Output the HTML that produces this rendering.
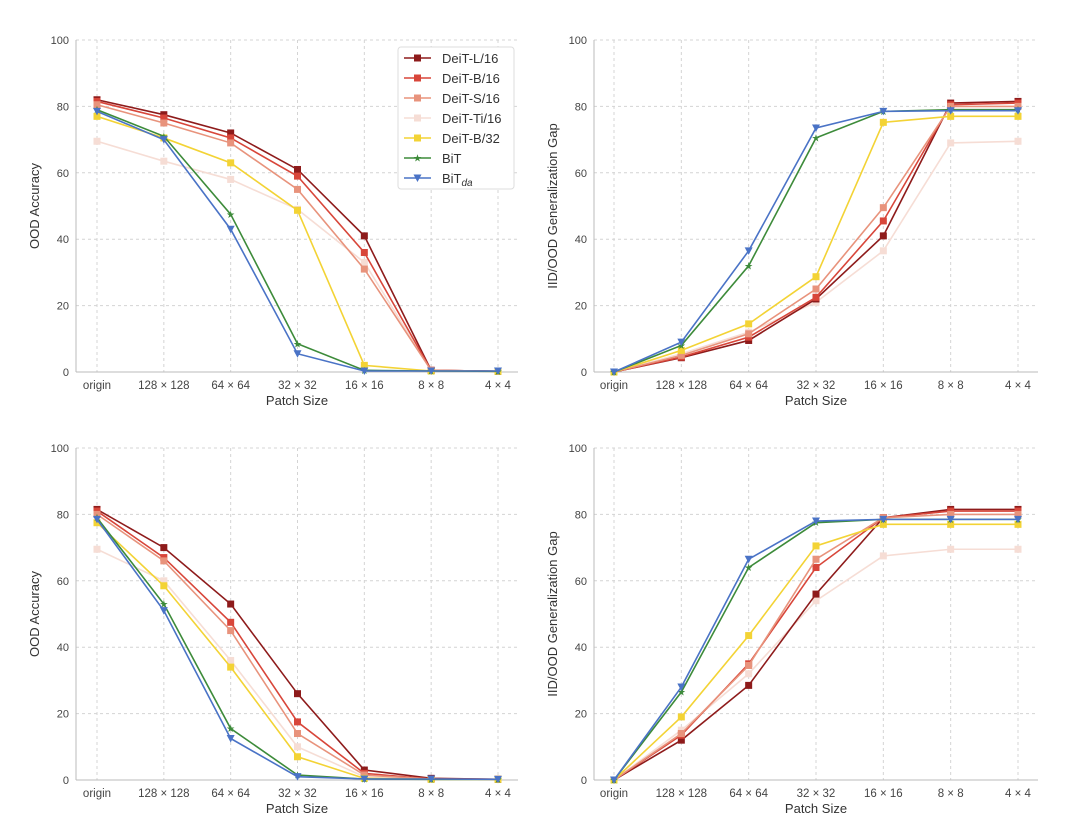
<!DOCTYPE html>
<html><head><meta charset="utf-8"><style>
body{margin:0;background:#fff;}
svg{display:block;font-family:"Liberation Sans",sans-serif;}
</style></head><body>
<svg id="c" width="1080" height="829"></svg>
<script>
const categories=["origin","128 × 128","64 × 64","32 × 32","16 × 16","8 × 8","4 × 4"];
const seriesNames=["DeiT-L/16","DeiT-B/16","DeiT-S/16","DeiT-Ti/16","DeiT-B/32","BiT","BiTda"];
const yTicks=[0,20,40,60,80,100];
const tlL=[82,77.5,72,61,41,0.5,0.2], tlB=[81.5,76.5,70.5,59,36,0.5,0.2], tlS=[80.5,75,69,55,31,0.5,0.2], tlTi=[69.5,63.5,58,49,33,0.5,0.2], tlB32=[77,70.5,63,48.7,2,0.3,0.2], tlBiT=[79,71,47.5,8.5,0.5,0.3,0.2], tlDa=[78.5,70,43,5.5,0.3,0.3,0.3];
const trL=[0,4.3,9.5,22,41,81,81.5], trB=[0,4.5,10.5,22.5,45.5,80.5,81], trS=[0,5,11.5,25,49.5,80,80], trTi=[0,5.5,12,21,36.5,69,69.5], trB32=[0,6.5,14.5,28.7,75.2,77,77], trBiT=[0,8,32,70.5,78.5,79,79], trDa=[0,9,36.5,73.5,78.5,78.7,78.7];
const blL=[81.5,70,53,26,3,0.5,0.2], blB=[81,67,47.5,17.5,2,0.3,0.2], blS=[80,66,45,14,1.5,0.3,0.2], blTi=[69.5,60,36,10,1,0.3,0.2], blB32=[77.5,58.5,34,7,0.5,0.2,0.2], blBiT=[79,53,15.5,1.5,0.3,0.2,0.2], blDa=[78.5,51,12.5,1,0.3,0.3,0.2];
const brL=[0,12,28.5,56,79,81.5,81.5], brB=[0,13.5,35,64,79,81,81], brS=[0,14,34.5,66.5,79,80,80], brTi=[0,15,32,54,67.5,69.5,69.5], brB32=[0,19,43.5,70.5,77,77,77], brBiT=[0,26.5,64,77.5,78.5,78.5,78.5], brDa=[0,28,66.5,78,78.5,78.5,78.5];
const colors=["#8e1b1b","#d8463a","#e8937c","#f6ddd5","#f3d335","#3d8b3a","#4a73c6"];
const NS="http://www.w3.org/2000/svg";
const svg=document.getElementById('c');
function mk(t,a,p){const e=document.createElementNS(NS,t);for(const k in a)e.setAttribute(k,a[k]);(p||svg).appendChild(e);return e;}
const panels=[
 {x0:76,x1:518,y0:40,y1:372,cx0:97,cx1:498,yl:"OOD Accuracy",d:[tlL,tlB,tlS,tlTi,tlB32,tlBiT,tlDa],legend:true,name:"top-left"},
 {x0:594,x1:1038,y0:40,y1:372,cx0:614,cx1:1018,yl:"IID/OOD Generalization Gap",d:[trL,trB,trS,trTi,trB32,trBiT,trDa],name:"top-right"},
 {x0:76,x1:518,y0:448,y1:780,cx0:97,cx1:498,yl:"OOD Accuracy",d:[blL,blB,blS,blTi,blB32,blBiT,blDa],name:"bottom-left"},
 {x0:594,x1:1038,y0:448,y1:780,cx0:614,cx1:1018,yl:"IID/OOD Generalization Gap",d:[brL,brB,brS,brTi,brB32,brBiT,brDa],name:"bottom-right"}];
function marker(g,k,x,y,c){
 let m;
 if(k<5) m=mk('rect',{x:x-3.5,y:y-3.5,width:7,height:7,fill:c},g);
 else if(k==5) m=mk('text',{x:x,y:y+3.5,'text-anchor':'middle','font-size':10,fill:c},g),m.textContent='★';
 else m=mk('path',{d:`M${x-4},${y-3.5}L${x+4},${y-3.5}L${x},${y+4}Z`,fill:c},g);
 
 
}
panels.forEach(p=>{
 const g=mk('g',{});
 
 
 const X=i=>p.cx0+(p.cx1-p.cx0)*i/(categories.length-1);
 const Y=v=>p.y1-(p.y1-p.y0)*v/100;
 yTicks.forEach(t=>{
  const gl=mk('line',{x1:p.x0,x2:p.x1,y1:Y(t),y2:Y(t),stroke:'#d4d4d4','stroke-dasharray':'3,3','stroke-width':1},g);
  
  
  const tl=mk('text',{x:p.x0-7,y:Y(t)+4,'text-anchor':'end','font-size':11,fill:'#444'},g);tl.textContent=t;
  
  
 });
 categories.forEach((c,i)=>{
  const gl=mk('line',{x1:X(i),x2:X(i),y1:p.y0,y2:p.y1,stroke:'#d4d4d4','stroke-dasharray':'3,3'},g);
  
  
  const tl=mk('text',{x:X(i),y:p.y1+17,'text-anchor':'middle','font-size':11.5,fill:'#444'},g);tl.textContent=c;
  
  
 });
 mk('line',{x1:p.x0,x2:p.x0,y1:p.y0,y2:p.y1,stroke:'#bbb'},g);
 mk('line',{x1:p.x0,x2:p.x1,y1:p.y1,y2:p.y1,stroke:'#bbb'},g);
 const xt=mk('text',{x:(p.x0+p.x1)/2,y:p.y1+33,'text-anchor':'middle','font-size':13,fill:'#333'},g);xt.textContent='Patch Size';
 
 
 const yt=mk('text',{x:0,y:0,'text-anchor':'middle','font-size':13,fill:'#333',transform:`translate(${p.x0-37},${(p.y0+p.y1)/2}) rotate(-90)`},g);yt.textContent=p.yl;
 
 
 [3,0,1,2,4,5,6].forEach(k=>{
  const s=p.d[k];
  const pl=mk('polyline',{points:s.map((v,i)=>X(i)+','+Y(v)).join(' '),fill:'none',stroke:colors[k],'stroke-width':1.6},g);
  
  
  s.forEach((v,i)=>marker(g,k,X(i),Y(v),colors[k]));
 });
 if(p.legend){
  const lg=mk('g',{},g);
  
  
  mk('rect',{x:398,y:47,width:116,height:142,fill:'#fff',stroke:'#ddd',rx:3},lg);
  seriesNames.forEach((n,k)=>{
   const y=58+k*20;
   const e=mk('g',{},lg);
   
   
   mk('line',{x1:404,x2:431,y1:y,y2:y,stroke:colors[k],'stroke-width':1.6},e);
   marker(e,k,417.5,y,colors[k]);
   const t=mk('text',{x:442,y:y+5,'font-size':13,fill:'#333'},e);
   if(k==6){t.textContent='BiT';const ts=mk('tspan',{'font-style':'italic','font-size':10,dy:3},t);ts.textContent='da';}
   else t.textContent=n;
  });
 }
});
</script>
</body></html>
